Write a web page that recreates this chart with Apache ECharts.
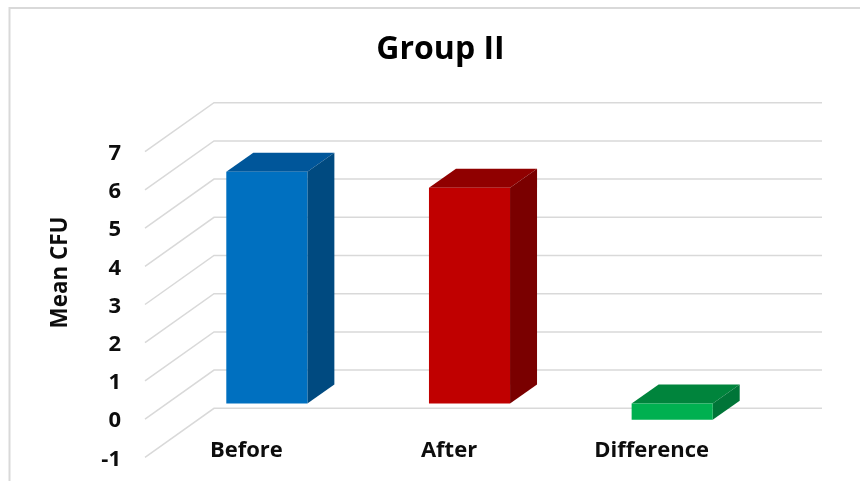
<!DOCTYPE html>
<html><head><meta charset="utf-8">
<style>html,body{margin:0;padding:0;background:#fff}#c{width:860px;height:481px}</style>
<script src="https://cdn.jsdelivr.net/npm/echarts@6/dist/echarts.min.js"></script>
</head><body><div id="c"></div>
<script>
const categories = ['Before', 'After', 'Difference'];
const values = [6.07, 5.65, -0.42];
const yTicks = [-1, 0, 1, 2, 3, 4, 5, 6, 7];
const frontColors = ['#0070C0', '#C00000', '#00B050'];
const topColors = ['#00569A', '#900000', '#00843C'];
const sideColors = ['#004A80', '#7A0000', '#007538'];
const FONT = '"Open Sans", sans-serif';
const WALL = [69, -49];    // depth of the floor
const BAR_START = [20.5, -15.5]; // bar front plane, relative to the axis plane
const BAR_DEPTH = [27, -19];
const chart = echarts.init(document.getElementById('c'), null, {renderer: 'canvas'});
chart.setOption({
  animation: false,
  backgroundColor: '#fff',
  title: {text: 'Group II', left: 435.5, top: 29, textAlign: 'center',
    textStyle: {fontFamily: FONT, fontWeight: 'bold', fontSize: 32, color: '#000'}},
  graphic: [{type: 'rect', silent: true, shape: {x: 9.5, y: 8, width: 1000, height: 1000},
    style: {fill: 'none', stroke: '#D9D9D9', lineWidth: 2}}],
  grid: {left: 145, right: 107, top: 151.7, bottom: 23.7},
  xAxis: {type: 'category', data: categories, axisLine: {show: false}, axisTick: {show: false},
    axisLabel: {inside: true, margin: -4, fontFamily: FONT, fontWeight: 'bold', fontSize: 22, color: '#0d0d0d'}},
  yAxis: {type: 'value', min: -1, max: 7, interval: 1, name: 'Mean CFU', nameLocation: 'middle',
    nameGap: 73, nameRotate: 90,
    nameTextStyle: {fontFamily: FONT, fontWeight: 'bold', fontSize: 22.4, color: '#0d0d0d', padding: [0, 0, 0, 64]},
    axisLine: {show: false}, axisTick: {show: false}, splitLine: {show: false},
    axisLabel: {margin: 24, formatter: '{a|{value}}',
      rich: {a: {padding: [4, 0, 0, 0], fontFamily: FONT, fontWeight: 'bold', fontSize: 22, color: '#0d0d0d'}}}},
  series: [
    {type: 'custom', silent: true, z: 1, coordinateSystem: 'cartesian2d',
     data: yTicks.map(t => [0, t]),
     renderItem(params, api) {
       const cs = params.coordSys;
       const y = api.coord([0, api.value(1)])[1];
       return {type: 'polyline', shape: {points: [[cs.x, y], [cs.x + WALL[0], y + WALL[1]], [cs.x + cs.width + WALL[0], y + WALL[1]]]},
         style: {fill: 'none', stroke: '#D9D9D9', lineWidth: 1.5}};
     }},
    {type: 'custom', silent: true, z: 2, coordinateSystem: 'cartesian2d',
     data: values.map((v, i) => [i, v]),
     renderItem(params, api) {
       const i = api.value(0), v = api.value(1);
       const w = api.size([1, 0])[0] * 0.4;
       const top = api.coord([i, Math.max(v, 0)]), bot = api.coord([i, Math.min(v, 0)]);
       const x0 = top[0] + BAR_START[0] - w / 2, x1 = x0 + w;
       const yT = top[1] + BAR_START[1], yB = bot[1] + BAR_START[1];
       const dx = BAR_DEPTH[0], dy = BAR_DEPTH[1];
       return {type: 'group', children: [
         {type: 'polygon', shape: {points: [[x0, yT], [x1, yT], [x1 + dx, yT + dy], [x0 + dx, yT + dy]]}, style: {fill: topColors[i]}},
         {type: 'polygon', shape: {points: [[x1, yT], [x1 + dx, yT + dy], [x1 + dx, yB + dy], [x1, yB]]}, style: {fill: sideColors[i]}},
         {type: 'rect', shape: {x: x0, y: yT, width: w, height: yB - yT}, style: {fill: frontColors[i]}}
       ]};
     }}
  ]
});
</script></body></html>
